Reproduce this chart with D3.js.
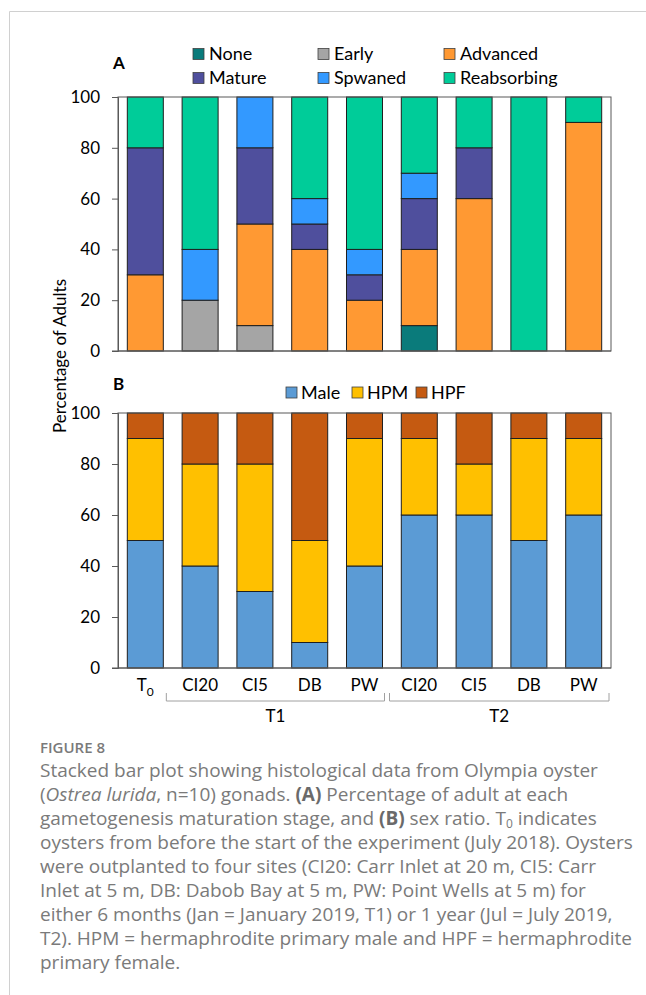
<!DOCTYPE html>
<html>
<head>
<meta charset="utf-8">
<script src="https://cdn.jsdelivr.net/npm/d3@7"></script>
<style>
  html, body { margin: 0; padding: 0; background: #fff; }
  svg { display: block; }
  .chart text { font-family: Lato, "Noto Sans", sans-serif; fill: #000; }
  .caption text { font-family: "Open Sans", "Noto Sans", sans-serif; fill: #7a7a7a; }
</style>
</head>
<body>
<svg id="fig" width="646" height="995"></svg>
<script>
// ---- categories ----
const groupKeys = ["T0", "T1-CI20", "T1-CI5", "T1-DB", "T1-PW", "T2-CI20", "T2-CI5", "T2-DB", "T2-PW"];
const siteLabels = ["T", "CI20", "CI5", "DB", "PW", "CI20", "CI5", "DB", "PW"];
const periodLabels = ["T1", "T2"];
const yTicks = [0, 20, 40, 60, 80, 100];

// ---- panel A: gametogenesis stage (% of adults), bottom to top ----
const stages = ["None", "Early", "Advanced", "Mature", "Spwaned", "Reabsorbing"];
const stageColors = ["#0a7b7b", "#a5a5a5", "#ff9933", "#4f4f9d", "#3399ff", "#00cc99"];
const stageNone        = [0, 0, 0, 0, 0, 10, 0, 0, 0];
const stageEarly       = [0, 20, 10, 0, 0, 0, 0, 0, 0];
const stageAdvanced    = [30, 0, 40, 40, 20, 30, 60, 0, 90];
const stageMature      = [50, 0, 30, 10, 10, 20, 20, 0, 0];
const stageSpwaned     = [0, 20, 20, 10, 10, 10, 0, 0, 0];
const stageReabsorbing = [20, 60, 0, 40, 60, 30, 20, 100, 10];

// ---- panel B: sex ratio (%), bottom to top ----
const sexes = ["Male", "HPM", "HPF"];
const sexColors = ["#5b9bd5", "#ffc000", "#c55a11"];
const sexMale = [50, 40, 30, 10, 40, 60, 60, 50, 60];
const sexHPM  = [40, 40, 50, 40, 50, 30, 20, 40, 30];
const sexHPF  = [10, 20, 20, 50, 10, 10, 20, 10, 10];

const rowsA = groupKeys.map((g, i) => ({
  key: g, None: stageNone[i], Early: stageEarly[i], Advanced: stageAdvanced[i],
  Mature: stageMature[i], Spwaned: stageSpwaned[i], Reabsorbing: stageReabsorbing[i]
}));
const rowsB = groupKeys.map((g, i) => ({ key: g, Male: sexMale[i], HPM: sexHPM[i], HPF: sexHPF[i] }));

const svg = d3.select("#fig");

// outer frame lines
svg.append("line").attr("x1", 9.5).attr("x2", 9.5).attr("y1", 11.5).attr("y2", 995)
  .attr("stroke", "#d0d0d0").attr("stroke-width", 1);
svg.append("line").attr("x1", 9.5).attr("x2", 646).attr("y1", 11.5).attr("y2", 11.5)
  .attr("stroke", "#d0d0d0").attr("stroke-width", 1);

const chart = svg.append("g").attr("class", "chart");

const plotLeft = 118, plotRight = 611;
const x = d3.scaleBand().domain(groupKeys).range([plotLeft, plotRight])
  .paddingInner(0.343).paddingOuter(0.17);

function drawPanel(rows, keys, colors, top, bottom) {
  const y = d3.scaleLinear().domain([0, 100]).range([bottom, top]);
  const color = d3.scaleOrdinal().domain(keys).range(colors);
  const series = d3.stack().keys(keys)(rows);
  const g = chart.append("g");

  g.selectAll("g.layer").data(series).join("g").attr("class", "layer")
    .attr("fill", d => color(d.key))
    .selectAll("rect").data(d => d.filter(s => s[1] - s[0] > 0)).join("rect")
    .attr("x", d => x(d.data.key))
    .attr("width", x.bandwidth())
    .attr("y", d => y(d[1]))
    .attr("height", d => y(d[0]) - y(d[1]))
    .attr("stroke", "#1f1f1f").attr("stroke-width", 1);

  // plot frame
  g.append("rect").attr("x", plotLeft).attr("y", top)
    .attr("width", plotRight - plotLeft).attr("height", bottom - top)
    .attr("fill", "none").attr("stroke", "#595959").attr("stroke-width", 1);

  const ax = g.append("g").attr("transform", `translate(${plotLeft},0)`)
    .call(d3.axisLeft(y).tickValues(yTicks).tickSize(6).tickPadding(12));
  ax.select(".domain").attr("stroke", "#595959");
  ax.selectAll(".tick line").attr("stroke", "#595959");
  ax.selectAll(".tick text").style("font-size", "17px").attr("fill", "#000");
  // baseline extends under the tick
  g.append("line").attr("x1", plotLeft - 6).attr("x2", plotRight)
    .attr("y1", bottom).attr("y2", bottom).attr("stroke", "#595959");
  return y;
}

drawPanel(rowsA, stages, stageColors, 97, 351);
drawPanel(rowsB, sexes, sexColors, 413, 668);

// panel letters
chart.append("text").attr("x", 113).attr("y", 69).text("A")
  .style("font-size", "17px").style("font-weight", "bold");
chart.append("text").attr("x", 113).attr("y", 390).text("B")
  .style("font-size", "17px").style("font-weight", "bold");

// y-axis title
chart.append("text").attr("transform", "translate(66,356) rotate(-90)")
  .attr("text-anchor", "middle").style("font-size", "17px").text("Percentage of Adults");

// legend A (two rows of three)
const legAx = [193, 318, 444];
const legAy = [54, 78];
stages.forEach((s, i) => {
  const lx = legAx[i % 3], ly = legAy[Math.floor(i / 3)];
  chart.append("rect").attr("x", lx).attr("y", ly - 5.5).attr("width", 11).attr("height", 11)
    .attr("fill", stageColors[i]).attr("stroke", "#404040").attr("stroke-width", 0.8);
  chart.append("text").attr("x", lx + 16).attr("y", ly).attr("dy", "0.36em")
    .style("font-size", "18px").text(s);
});

// legend B
const legBx = [286, 352, 416];
sexes.forEach((s, i) => {
  chart.append("rect").attr("x", legBx[i]).attr("y", 387).attr("width", 11).attr("height", 11)
    .attr("fill", sexColors[i]).attr("stroke", "#404040").attr("stroke-width", 0.8);
  chart.append("text").attr("x", legBx[i] + 15).attr("y", 392.5).attr("dy", "0.36em")
    .style("font-size", "18px").text(s);
});

// category labels under panel B
groupKeys.forEach((k, i) => {
  const t = chart.append("text").attr("x", x(k) + x.bandwidth() / 2).attr("y", 685)
    .attr("dy", "0.36em").attr("text-anchor", "middle").style("font-size", "17px");
  t.append("tspan").text(siteLabels[i]);
  if (k === "T0") t.append("tspan").attr("dy", "5").style("font-size", "12px").text("0");
});

// period brackets
const bw = x.bandwidth();
const brackets = [
  { label: periodLabels[0], x0: x("T0") + bw + 3, x1: x("T1-PW") + bw + 2 },
  { label: periodLabels[1], x0: x("T1-PW") + bw + 7, x1: plotRight - 2 }
];
brackets.forEach(b => {
  chart.append("path")
    .attr("d", `M${b.x0},693V701H${b.x1}V693`)
    .attr("fill", "none").attr("stroke", "#a0a0a0").attr("stroke-width", 1);
  chart.append("text").attr("x", (b.x0 + b.x1) / 2).attr("y", 716).attr("dy", "0.36em")
    .attr("text-anchor", "middle").style("font-size", "17px").text(b.label);
});

// caption
const cap = svg.append("g").attr("class", "caption");
cap.append("text").attr("x", 40).attr("y", 753).style("font-size", "15px")
  .style("font-weight", "600").text("FIGURE 8");

const captionLines = [
  [["Stacked bar plot showing histological data from Olympia oyster"]],
  [["("], ["Ostrea lurida", "i"], [", n=10) gonads. "], ["(A)", "b"], [" Percentage of adult at each"]],
  [["gametogenesis maturation stage, and "], ["(B)", "b"], [" sex ratio. T"], ["0", "sub"], [" indicates"]],
  [["oysters from before the start of the experiment (July 2018). Oysters"]],
  [["were outplanted to four sites (CI20: Carr Inlet at 20 m, CI5: Carr"]],
  [["Inlet at 5 m, DB: Dabob Bay at 5 m, PW: Point Wells at 5 m) for"]],
  [["either 6 months (Jan = January 2019, T1) or 1 year (Jul = July 2019,"]],
  [["T2). HPM = hermaphrodite primary male and HPF = hermaphrodite"]],
  [["primary female."]]
];
captionLines.forEach((segs, li) => {
  const t = cap.append("text").attr("x", 40).attr("y", 777 + li * 24).style("font-size", "19px");
  let shifted = false;
  segs.forEach(([txt, st]) => {
    const sp = t.append("tspan").text(txt);
    if (st === "i") sp.style("font-style", "italic");
    if (st === "b") sp.style("font-weight", "bold").style("fill", "#6a6a6a");
    if (st === "sub") { sp.attr("dy", 3).style("font-size", "12px"); shifted = true; }
    else if (shifted) { sp.attr("dy", -3); shifted = false; }
  });
});
</script>
</body>
</html>
